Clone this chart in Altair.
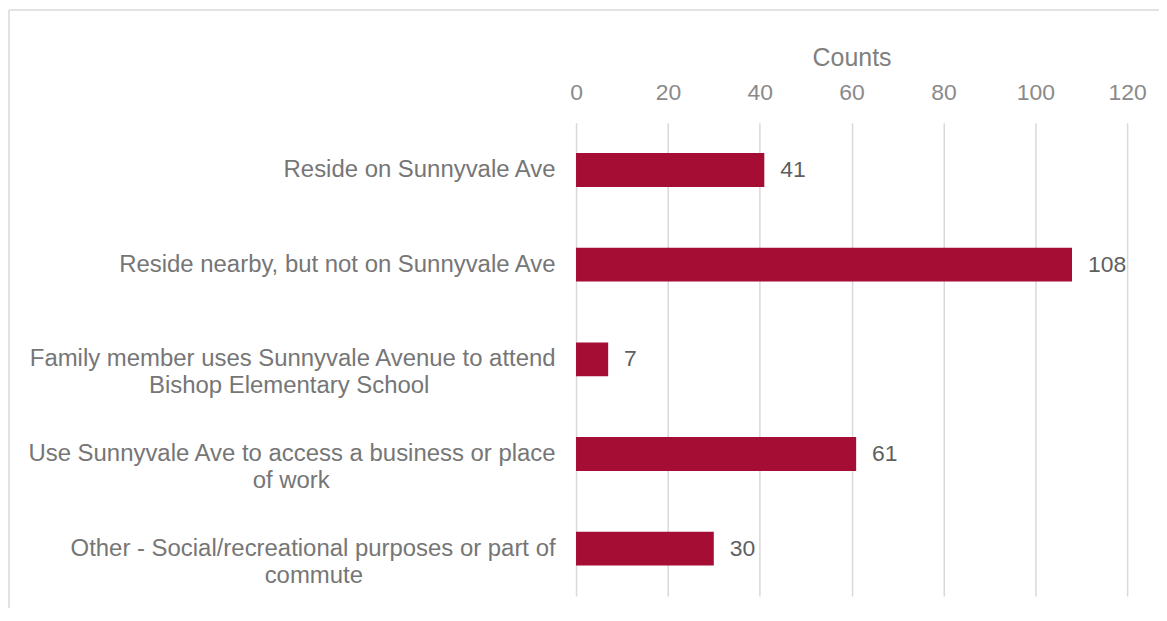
import altair as alt
import pandas as pd

line1 = [
    "Reside on Sunnyvale Ave",
    "Reside nearby, but not on Sunnyvale Ave",
    "Family member uses Sunnyvale Avenue to attend",
    "Use Sunnyvale Ave to access a business or place",
    "Other - Social/recreational purposes or part of",
]
line2 = [
    "",
    "",
    "Bishop Elementary School",
    "of work",
    "commute",
]
counts = [41, 108, 7, 61, 30]
x_ticks = [0, 20, 40, 60, 80, 100, 120]

# approximate Arial advance widths (1/1000 em), used to centre the second label line
W = {' ': 278, '-': 333, '/': 278, ',': 278, 'a': 556, 'b': 556, 'c': 500, 'd': 556,
     'e': 556, 'f': 278, 'g': 556, 'h': 556, 'i': 222, 'k': 500, 'l': 222, 'm': 833,
     'n': 556, 'o': 556, 'p': 556, 'r': 333, 's': 500, 't': 278, 'u': 556, 'v': 500,
     'w': 722, 'y': 500, 'A': 667, 'B': 667, 'E': 667, 'F': 611, 'O': 778, 'R': 722,
     'S': 667, 'U': 722}


def tw(s):
    return sum(W.get(c, 556) for c in s)


cats = []
for a, b in zip(line1, line2):
    if b:
        n = round((tw(a) - tw(b)) / 2 / 278)
        cats.append(a + "|" + b + "\u00a0" * n + "\u200b")
    else:
        cats.append(a)

df = pd.DataFrame({"cat": cats, "count": counts})

FONT = "Arial, Liberation Sans, sans-serif"

base = alt.Chart(df).encode(
    y=alt.Y("cat:N", sort=cats, title=None,
            scale=alt.Scale(paddingInner=0, paddingOuter=0),
            axis=alt.Axis(labelExpr="split(datum.label, '|')", labelFontSize=24,
                          labelColor="#767676", labelPadding=21, labelLineHeight=27,
                          ticks=False, domain=False, grid=False, labelFont=FONT,
                          labelLimit=800)),
    x=alt.X("count:Q", title="Counts",
            scale=alt.Scale(domain=[0, 120], nice=False),
            axis=alt.Axis(orient="top", values=x_ticks, labelFontSize=23,
                          labelColor="#8a8a8a", labelPadding=18, ticks=False,
                          labelFlush=False, labelOverlap=False,
                          domain=False, grid=True, gridColor="#d9d9d9", gridWidth=1.5,
                          titleFontSize=25, titleColor="#808080", titleFontWeight="normal",
                          titlePadding=11, labelFont=FONT, titleFont=FONT)),
)

bars = base.mark_bar(size=34, color="#A50D34")
labels = base.mark_text(align="left", baseline="middle", dx=16, fontSize=23,
                        color="#5f5f5f", font=FONT).encode(text="count:Q")

frame_df = pd.DataFrame({"a": [0]})
frame_left = alt.Chart(frame_df).mark_rule(color="#d9d9d9", strokeWidth=1.5).encode(
    x=alt.value(-569), y=alt.value(-113), y2=alt.value(700))
frame_top = alt.Chart(frame_df).mark_rule(color="#d9d9d9", strokeWidth=1.5).encode(
    x=alt.value(-569), x2=alt.value(800), y=alt.value(-113))

chart = alt.layer(frame_left, frame_top, bars, labels).properties(
    width=553, height=475,
    autosize=alt.AutoSizeParams(type="none"),
    padding={"left": 570, "top": 114, "right": 32, "bottom": 11},
    background="white",
).configure_view(stroke=None)

chart.save("out.html", embed_options={"renderer": "svg", "actions": False})
